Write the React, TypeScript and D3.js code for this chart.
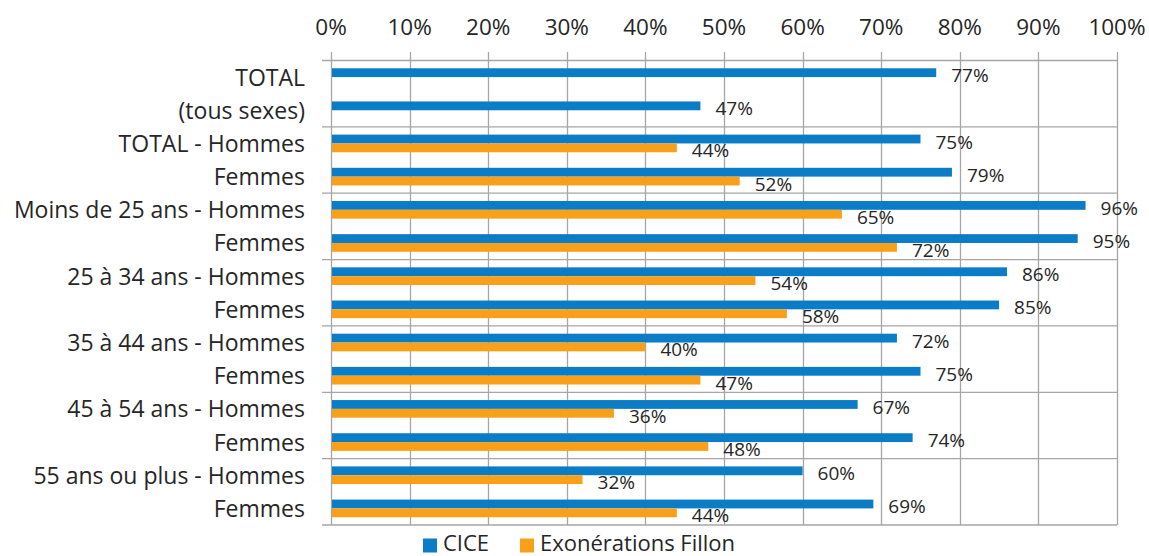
import React, { useEffect, useRef } from 'react';
import * as d3 from 'd3';

const rowLabels = [
  'TOTAL', '(tous sexes)',
  'TOTAL - Hommes', 'Femmes',
  'Moins de 25 ans - Hommes', 'Femmes',
  '25 à 34 ans - Hommes', 'Femmes',
  '35 à 44 ans - Hommes', 'Femmes',
  '45 à 54 ans - Hommes', 'Femmes',
  '55 ans ou plus - Hommes', 'Femmes',
];
const cice = [0.77, 0.47, 0.75, 0.79, 0.96, 0.95, 0.86, 0.85, 0.72, 0.75, 0.67, 0.74, 0.60, 0.69];
const fillon: (number | null)[] = [null, null, 0.44, 0.52, 0.65, 0.72, 0.54, 0.58, 0.40, 0.47, 0.36, 0.48, 0.32, 0.44];
const xTicks = [0, 0.1, 0.2, 0.3, 0.4, 0.5, 0.6, 0.7, 0.8, 0.9, 1];
const seriesNames = ['CICE', 'Exonérations Fillon'];
const seriesColors = ['#0b7dc6', '#f9a01a'];

const App: React.FC = () => {
  const ref = useRef<HTMLDivElement>(null);

  useEffect(() => {
    const svgWidth = 1149, svgHeight = 556;
    const font = '"Open Sans", sans-serif';
    const textColor = '#262626';
    const gridColor = '#a6a6a6';

    d3.select(ref.current).selectAll('*').remove();

    const svg = d3.select(ref.current).append('svg')
      .attr('width', svgWidth)
      .attr('height', svgHeight)
      .style('position', 'absolute')
      .style('left', '0px')
      .style('top', '0px')
      .style('font-family', font);

    const x = d3.scaleLinear().domain([0, 1]).range([331, 1117]);

    const rows = d3.range(rowLabels.length);
    const y = d3.scaleBand<number>()
      .domain(rows)
      .range([60.5, 525]);

    const inner = d3.scaleBand<number>()
      .domain([0, 1])
      .range([0, y.bandwidth()])
      .paddingOuter(0.88);

    // vertical gridlines
    svg.append('g')
      .selectAll('line')
      .data(xTicks)
      .enter().append('line')
      .attr('x1', d => Math.round(x(d)) + 0.5)
      .attr('x2', d => Math.round(x(d)) + 0.5)
      .attr('y1', 52)
      .attr('y2', 525)
      .attr('stroke', gridColor)
      .attr('stroke-width', 1.3);

    // horizontal group separators
    const bounds = d3.range(0, rowLabels.length + 1, 2);
    svg.append('g')
      .selectAll('line')
      .data(bounds)
      .enter().append('line')
      .attr('x1', 322)
      .attr('x2', x(1))
      .attr('y1', d => (d < rowLabels.length ? y(d)! : y(d - 1)! + y.bandwidth()))
      .attr('y2', d => (d < rowLabels.length ? y(d)! : y(d - 1)! + y.bandwidth()))
      .attr('stroke', gridColor)
      .attr('stroke-width', 1.3);

    // top tick labels
    svg.append('g')
      .selectAll('text')
      .data(xTicks)
      .enter().append('text')
      .attr('x', d => x(d))
      .attr('y', 35)
      .attr('text-anchor', 'middle')
      .attr('font-size', 22.5)
      .attr('fill', textColor)
      .text(d => d3.format('.0%')(d));

    // category labels
    svg.append('g')
      .selectAll('text')
      .data(rows)
      .enter().append('text')
      .attr('x', 305)
      .attr('y', d => y(d)! + y.bandwidth() / 2 + 8.5)
      .attr('text-anchor', 'end')
      .attr('font-size', 23)
      .attr('fill', textColor)
      .text(d => rowLabels[d]);

    const bars: { row: number; s: number; v: number }[] = [];
    rows.forEach(r => {
      bars.push({ row: r, s: 0, v: cice[r] });
      if (fillon[r] !== null) bars.push({ row: r, s: 1, v: fillon[r] as number });
    });

    svg.append('g')
      .selectAll('rect')
      .data(bars)
      .enter().append('rect')
      .attr('x', x(0) + 1)
      .attr('y', d => y(d.row)! + inner(d.s)!)
      .attr('width', d => x(d.v) - x(0) - 1)
      .attr('height', inner.bandwidth())
      .attr('fill', d => seriesColors[d.s]);

    svg.append('g')
      .selectAll('text')
      .data(bars)
      .enter().append('text')
      .attr('x', d => x(d.v) + 15)
      .attr('y', d => y(d.row)! + inner(d.s)! + inner.bandwidth() / 2 + 9.5)
      .attr('font-size', 19)
      .attr('fill', textColor)
      .text(d => d3.format('.0%')(d.v));

    // legend
    const legendX = [423, 520];
    const legend = svg.append('g');
    seriesNames.forEach((name, i) => {
      legend.append('rect')
        .attr('x', legendX[i])
        .attr('y', 538.5)
        .attr('width', 14)
        .attr('height', 14)
        .attr('fill', seriesColors[i]);
      legend.append('text')
        .attr('x', legendX[i] + 20)
        .attr('y', 551)
        .attr('font-size', 22)
        .attr('fill', textColor)
        .text(name);
    });
  }, []);

  return <div ref={ref} />;
};

export default App;
